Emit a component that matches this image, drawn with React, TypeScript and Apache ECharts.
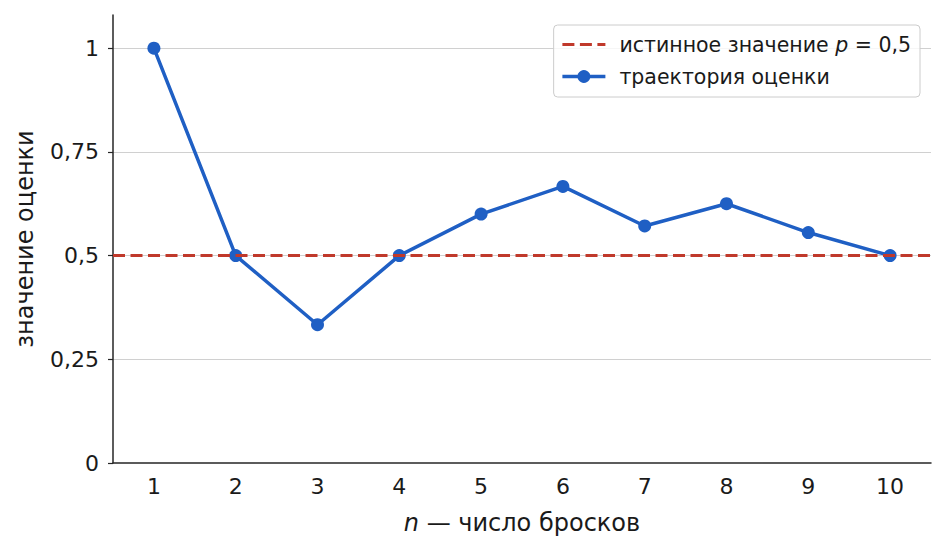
import { useEffect, useRef } from 'react';
import * as echarts from 'echarts';

const throws = ['1', '2', '3', '4', '5', '6', '7', '8', '9', '10'];
const estimates = [1, 0.5, 0.3333, 0.5, 0.6, 0.6667, 0.5714, 0.625, 0.5556, 0.5];
const trueP = 0.5;
const yTicks = [0, 0.25, 0.5, 0.75, 1];
const yTickLabels = ['0', '0,25', '0,5', '0,75', '1'];

const FONT = '"DejaVu Sans", sans-serif';
const AXIS_COLOR = '#262626';
const TEXT_COLOR = '#1a1a1a';
const BLUE = '#1f5fc4';
const RED = '#c0392b';

export default function App() {
  const chartRef = useRef<HTMLDivElement>(null);

  useEffect(() => {
    if (!chartRef.current) return;
    const chart = echarts.init(chartRef.current, undefined, { renderer: 'svg' });

    chart.setOption({
      animation: false,
      textStyle: { fontFamily: FONT },
      grid: { left: 113, right: 15, top: 15, bottom: 91 },
      legend: {
        orient: 'vertical',
        right: 26,
        top: 25,
        padding: [9, 9, 10, 7],
        itemGap: 11,
        itemWidth: 43,
        itemHeight: 16,
        borderColor: '#cccccc',
        borderWidth: 1,
        borderRadius: 4,
        backgroundColor: 'rgba(255,255,255,0.8)',
        data: [
          { name: 'true', itemStyle: { opacity: 0 }, lineStyle: { width: 3 } },
          { name: 'traj', lineStyle: { width: 3.5 } },
        ],
        formatter: (name: string) =>
          name === 'true'
            ? 'истинное значение {i|p} = 0,5'
            : 'траектория оценки',
        textStyle: {
          fontFamily: FONT,
          fontSize: 20.5,
          color: TEXT_COLOR,
          padding: [0, 0, 0, 9],
          rich: {
            i: { fontFamily: FONT, fontSize: 20.5, fontStyle: 'italic', color: TEXT_COLOR },
          },
        },
      },
      xAxis: {
        type: 'category',
        data: throws,
        boundaryGap: true,
        name: '{i|n} — число бросков',
        nameLocation: 'middle',
        nameGap: 48,
        nameTextStyle: {
          fontFamily: FONT,
          fontSize: 24,
          color: TEXT_COLOR,
          rich: {
            i: { fontFamily: FONT, fontSize: 24, fontStyle: 'italic', color: TEXT_COLOR },
          },
        },
        axisLine: { lineStyle: { color: AXIS_COLOR, width: 1.5 } },
        axisTick: { alignWithLabel: true, length: 5, lineStyle: { color: AXIS_COLOR, width: 1.2 } },
        axisLabel: { fontFamily: FONT, fontSize: 22, color: TEXT_COLOR, margin: 12 },
        splitLine: { show: false },
      },
      yAxis: {
        type: 'value',
        min: 0,
        max: 1.08,
        interval: 0.25,
        name: 'значение оценки',
        nameLocation: 'middle',
        nameGap: 76,
        nameTextStyle: { fontFamily: FONT, fontSize: 24, color: TEXT_COLOR },
        axisLine: { show: true, lineStyle: { color: AXIS_COLOR, width: 1.5 } },
        axisTick: { show: true, inside: false, length: 5, lineStyle: { color: AXIS_COLOR, width: 1.2 } },
        axisLabel: {
          fontFamily: FONT,
          fontSize: 22,
          color: TEXT_COLOR,
          margin: 14,
          showMaxLabel: false,
          formatter: (v: number) => {
            const idx = yTicks.findIndex((t) => Math.abs(t - v) < 1e-6);
            return idx >= 0 ? yTickLabels[idx] : '';
          },
        },
        splitLine: {
          show: true,
          showMinLine: false,
          showMaxLine: false,
          lineStyle: { color: '#d0d0d0', width: 1 },
        },
      },
      series: [
        {
          name: 'true',
          type: 'line',
          data: [],
          symbol: 'none',
          color: RED,
          lineStyle: { color: RED, type: [12, 5.5], width: 2.8 },
          markLine: {
            silent: true,
            symbol: ['none', 'none'],
            label: { show: false },
            lineStyle: { color: RED, type: [12, 5.5], width: 2.8 },
            data: [{ yAxis: trueP }],
          },
        },
        {
          name: 'traj',
          type: 'line',
          data: estimates,
          color: BLUE,
          symbol: 'circle',
          symbolSize: 13,
          showAllSymbol: true,
          lineStyle: { color: BLUE, width: 3.5 },
          itemStyle: { color: BLUE },
          z: 3,
        },
      ],
    });

    return () => chart.dispose();
  }, []);

  return (
    <div
      ref={chartRef}
      style={{ position: 'absolute', left: 0, top: 0, width: 946, height: 554, background: '#fff' }}
    />
  );
}
